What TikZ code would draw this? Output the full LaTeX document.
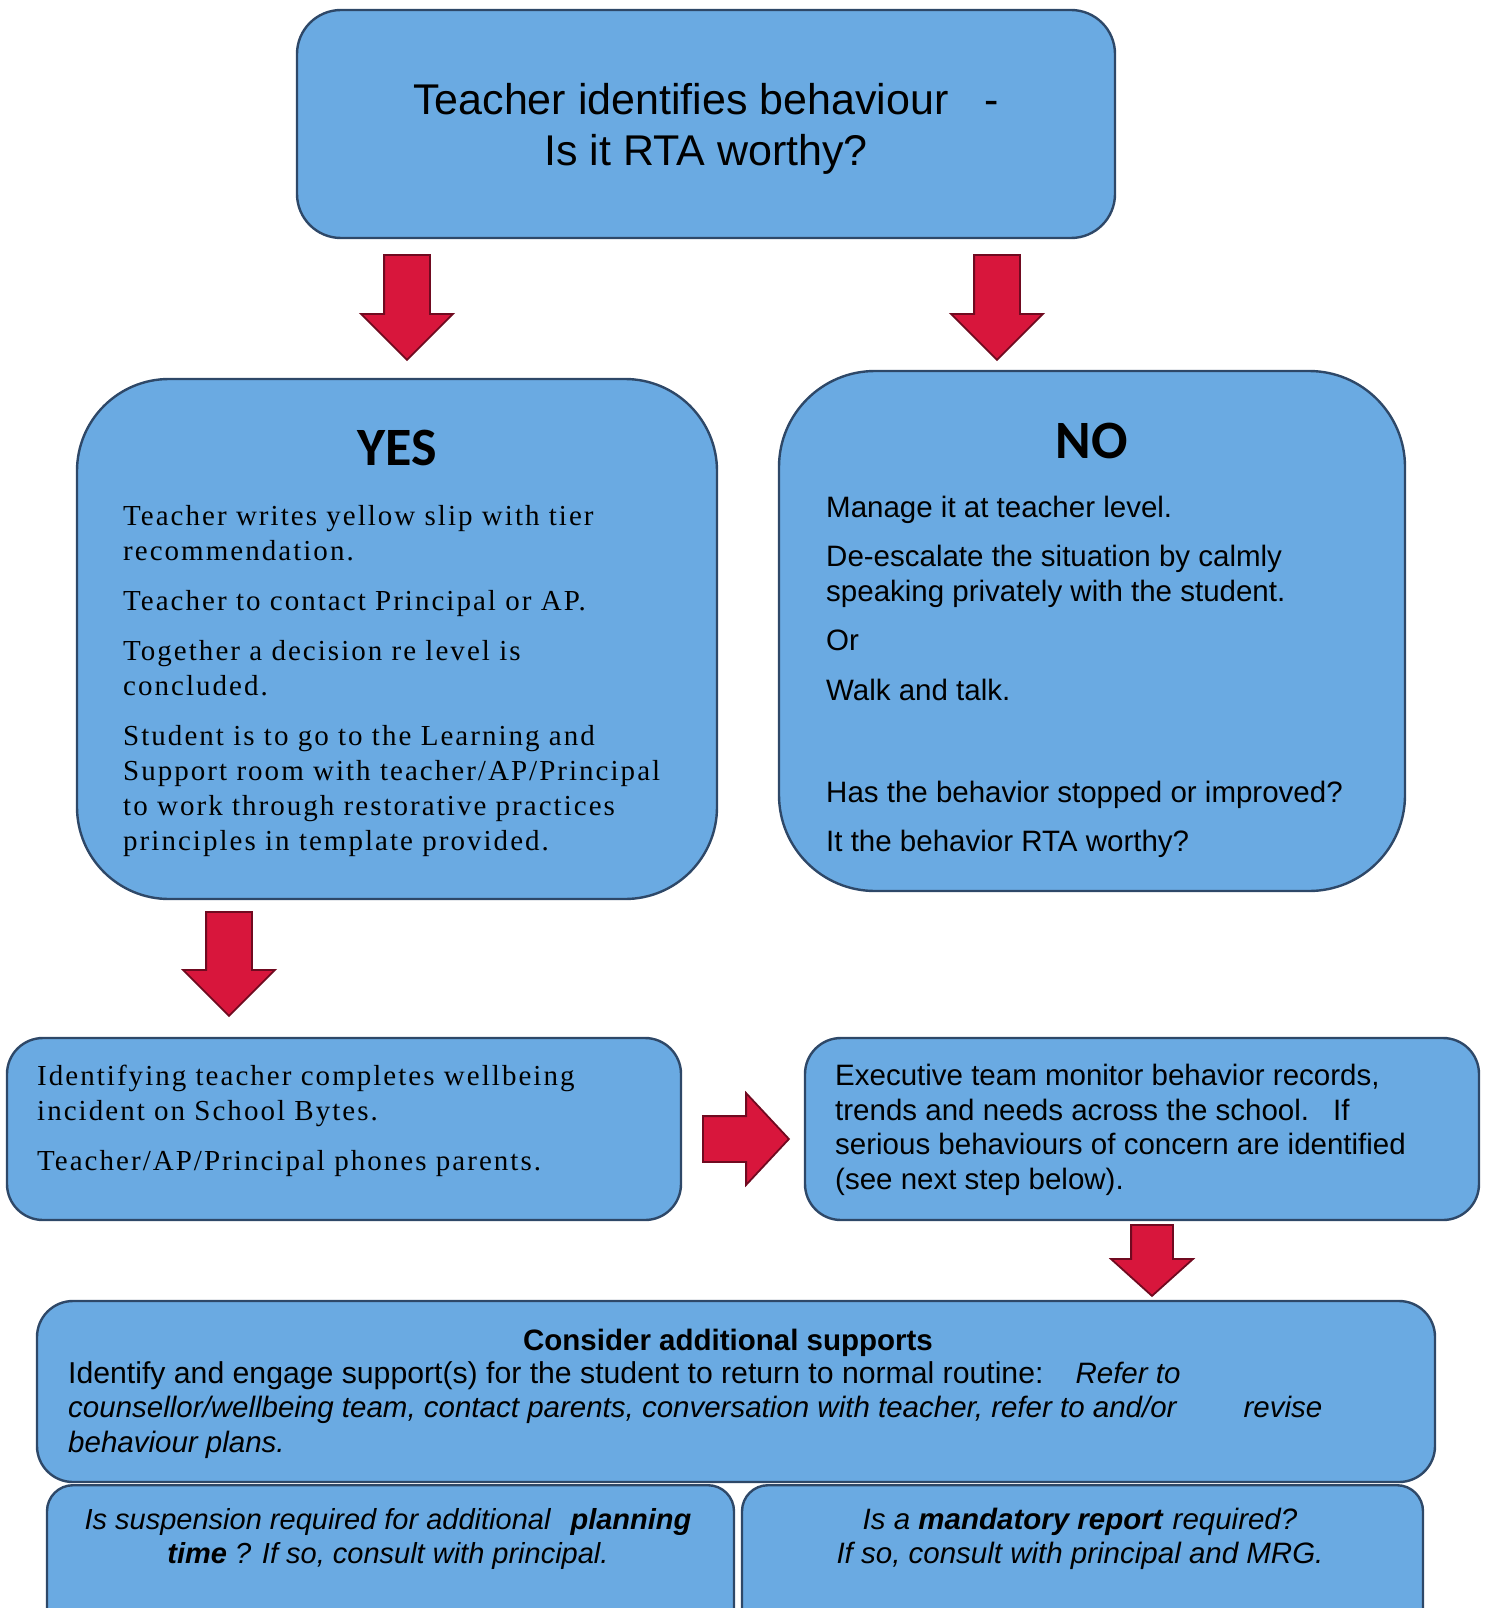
\documentclass[tikz,border=0pt]{standalone}
\usepackage{fontspec}
\setmainfont{Liberation Sans}
\newfontfamily\slipfont[LetterSpace=7]{Liberation Serif}
\newfontfamily\headfont{Carlito}
\usetikzlibrary{positioning,shapes.arrows}

\definecolor{boxblue}{RGB}{106,170,226}
\definecolor{boxedge}{RGB}{46,72,104}
\definecolor{arrowred}{RGB}{216,22,60}
\definecolor{arrowedge}{RGB}{112,10,32}

\tikzset{
  box/.style={
    draw=boxedge,
    fill=boxblue,
    line width=2.4pt,
    rectangle,
    inner sep=0pt
  },
  txt/.style={inner sep=0pt, align=left, anchor=base west, font=\fontsize{29.5}{34.5}\selectfont},
  slip/.style={txt, font=\slipfont\fontsize{29}{35}\selectfont},
  heading/.style={inner sep=0pt, anchor=base, font=\headfont\bfseries\fontsize{54}{60}\selectfont},
  blockarrow/.style={
    single arrow,
    draw=arrowedge,
    fill=arrowred,
    line width=1.8pt,
    inner xsep=0pt,
    inner ysep=22pt,
    single arrow head extend=23pt,
    single arrow tip angle=90,
    minimum height=105pt,
    anchor=tail
  },
  downarrow/.style={blockarrow, rotate=-90},
  sidearrow/.style={blockarrow, minimum height=86pt, single arrow tip angle=94},
  smallarrow/.style={blockarrow, rotate=-90, inner ysep=20pt, single arrow head extend=20pt, minimum height=71pt, single arrow tip angle=96}
}

\begin{document}
\begin{tikzpicture}[x=1pt,y=-1pt]
\useasboundingbox (0,0) rectangle (1485,1608);
\clip (0,0) rectangle (1485,1608);

\node[box, minimum width=818pt, minimum height=228pt, rounded corners=44pt, align=center, font=\fontsize{43}{51}\selectfont] (question) at (706,124) {\rule{0pt}{41pt}Teacher identifies behaviour~~~-\\Is it RTA worthy?};

% yes side
\node[downarrow] (yes_arrow) at (407,254) {};
\node[box, minimum width=640pt, minimum height=520pt, rounded corners=92pt] (yes) at (397,639) {};
\node[heading] (yes_head) at (397,465) {YES};
\node[slip] (yes_text) at (123,850) {Teacher writes yellow slip with tier\\recommendation.\\[15pt]Teacher to contact Principal or AP.\\[15pt]Together a decision re level is\\concluded.\\[15pt]Student is to go to the Learning and\\Support room with teacher/AP/Principal\\to work through restorative practices\\principles in template provided.};

% no side
\node[downarrow] (no_arrow) at (997,254) {};
\node[box, minimum width=626pt, minimum height=520pt, rounded corners=96pt] (no) at (1092,631) {};
\node[heading] (no_head) at (1092,458) {NO};
\node[txt] (no_text) at (826,851) {Manage it at teacher level.\\[15pt]De-escalate the situation by calmly\\speaking privately with the student.\\[15pt]Or\\[15pt]Walk and talk.\\[68pt]Has the behavior stopped or improved?\\[14pt]It the behavior RTA worthy?};

% wellbeing entry
\node[downarrow, minimum height=104pt] (ident_arrow) at (229,911) {};
\node[box, minimum width=674pt, minimum height=182pt, rounded corners=36pt] (ident) at (344,1129) {};
\node[slip] (ident_text) at (37,1170) {Identifying teacher completes wellbeing\\incident on School Bytes.\\[15pt]Teacher/AP/Principal phones parents.};

% executive team
\node[sidearrow] (exec_arrow) at (702,1139) {};
\node[box, minimum width=674pt, minimum height=182pt, rounded corners=36pt] (exec) at (1142,1129) {};
\node[txt] (exec_text) at (835,1189) {Executive team monitor behavior records,\\trends and needs across the school.\hspace{24pt}If\\serious behaviours of concern are identified\\(see next step below).};

% supports
\node[smallarrow] (support_arrow) at (1152,1224) {};
\node[box, minimum width=1398pt, minimum height=181pt, rounded corners=36pt] (support) at (736,1391.5) {};
\node[txt, anchor=base, font=\bfseries\fontsize{29.5}{34.5}\selectfont] (support_head) at (728,1350) {Consider additional supports};
\node[txt] (support_text) at (68,1452) {{\fontsize{30.2}{34.5}\selectfont Identify and engage support(s) for the student to return to normal routine:}\hspace{32pt}\textit{Refer to}\\\textit{counsellor/wellbeing team, contact parents, conversation with teacher, refer to and/or\hspace{67pt}revise}\\\textit{behaviour plans.}};

% last row
\node[box, minimum width=687pt, minimum height=200pt, rounded corners=26pt, anchor=north] (suspend) at (390.5,1484) {};
\node[box, minimum width=681pt, minimum height=200pt, rounded corners=26pt, anchor=north] (report) at (1082.5,1484) {};
\node[txt, align=center, anchor=base, font=\itshape\fontsize{29}{34}\selectfont] (suspend_text) at (388,1563) {Is suspension required for additional\hspace{20pt}\textbf{planning}\\\textbf{time} ? If so, consult with principal.};
\node[txt, align=center, anchor=base, font=\itshape\fontsize{29.5}{34}\selectfont] (report_text) at (1080,1563) {Is a \textbf{mandatory report}\hspace{10pt}required?\\If so, consult with principal and MRG.};

\end{tikzpicture}
\end{document}
